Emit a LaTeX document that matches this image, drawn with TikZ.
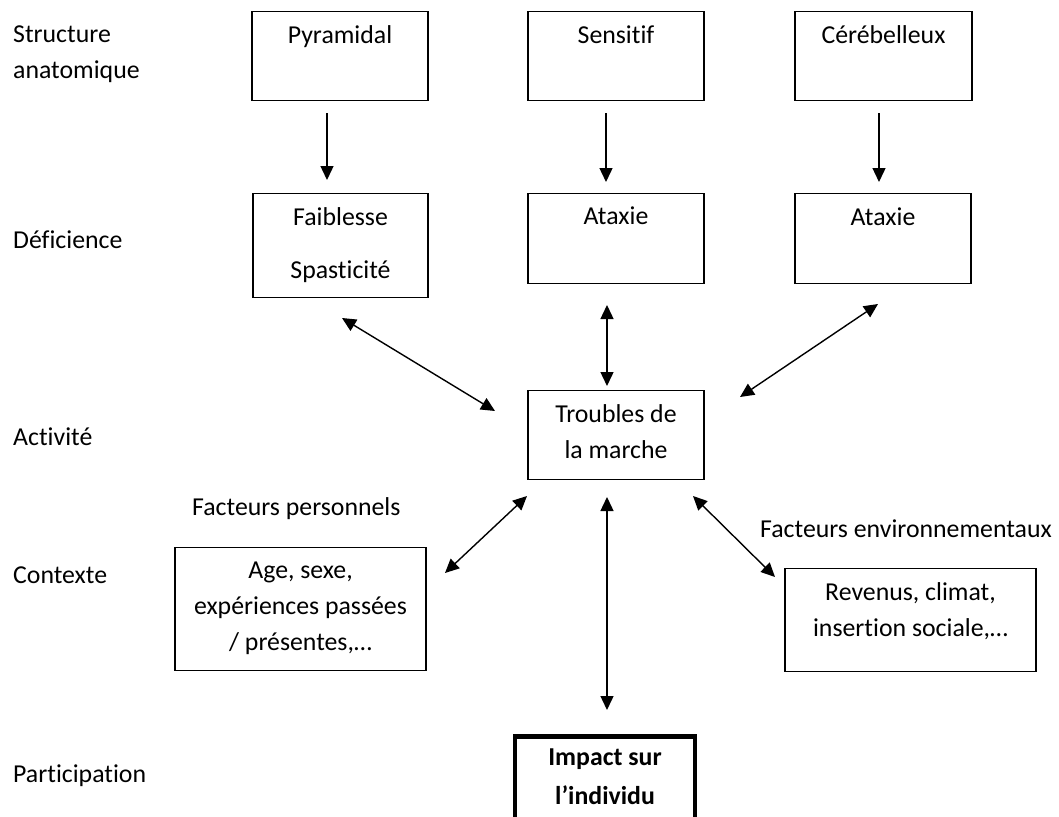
\documentclass[tikz,border=0pt]{standalone}
\usepackage{fontspec}
\setmainfont{Carlito}[Ligatures=NoCommon]
\usetikzlibrary{arrows.meta}
\frenchspacing
\begin{document}
\begin{tikzpicture}[x=1pt,y=-1pt,
  txt/.style={font=\fontsize{25.8}{36}\selectfont},
  box/.style={txt, draw, line width=1.4pt, inner sep=0pt, align=flush center, anchor=north},
  lab/.style={txt, anchor=base west, inner sep=0pt},
  arr/.style={line width=1.4pt, -{Triangle[length=14pt,width=13pt]}},
  darr/.style={line width=1.4pt, {Triangle[length=14pt,width=13pt]}-{Triangle[length=14pt,width=13pt]}}
]
\path[use as bounding box, clip] (0,0) rectangle (1059,816);
\fill[white] (0,0) rectangle (1059,816);

% left labels
\node[lab] (l1) at (13,43) {Structure};
\node[lab] (l2) at (13,78) {anatomique};
\node[lab] (l3) at (13,248) {Déficience};
\node[lab] (l4) at (13,445) {Activité};
\node[lab] (l5) at (13,583) {Contexte};
\node[lab] (l6) at (13,782) {Participation};

% top row
\node[box, text width=176pt, text height=32pt, text depth=57pt] (pyr) at (340,11) {Pyramidal};
\node[box, text width=176pt, text height=32pt, text depth=57pt] (sen) at (616,11) {Sensitif};
\node[box, text width=177pt, text height=32pt, text depth=57pt] (cer) at (883.5,11) {Cérébelleux};

% deficiency row
\node[box, text width=175pt, text height=32pt, text depth=72pt] (fai) at (340.5,193) {Faiblesse\\[17pt]Spasticité};
\node[box, text width=176pt, text height=31pt, text depth=59pt] (atm) at (616,193) {Ataxie};
\node[box, text width=176pt, text height=32pt, text depth=58pt] (atr) at (883,193) {Ataxie};

% activity
\node[box, text width=176pt, text height=32pt, text depth=57pt] (tro) at (616,390) {Troubles de\\la marche};

% context
\node[lab] (fp) at (192,515) {Facteurs personnels};
\node[lab] (fe) at (760,537) {Facteurs environnementaux};
\node[box, text width=251pt, text height=31pt, text depth=92pt] (age) at (300.5,547) {Age, sexe,\\expériences passées\\/ présentes,…};
\node[box, text width=251pt, text height=32pt, text depth=71pt] (rev) at (910.5,568) {Revenus, climat,\\insertion sociale,…};

% participation
\node[box, line width=4.5pt, font=\bfseries\fontsize{25.8}{39}\selectfont, text width=180pt, text height=29pt, text depth=120pt] (imp) at (605,734) {Impact sur\\l’individu};

% connector ends
\coordinate (a1s) at (327,113);  \coordinate (a1e) at (327,180);
\coordinate (a2s) at (606,113);  \coordinate (a2e) at (606,182);
\coordinate (a3s) at (879,113);  \coordinate (a3e) at (879,182);
\coordinate (d1a) at (342,318);  \coordinate (d1b) at (495,411);
\coordinate (v1a) at (607,305);  \coordinate (v1b) at (607,386);
\coordinate (d2a) at (878,304);  \coordinate (d2b) at (740,397);
\coordinate (d3a) at (527,496);  \coordinate (d3b) at (445,573);
\coordinate (v2a) at (607,497);  \coordinate (v2b) at (607,710);
\coordinate (d4a) at (693,496);  \coordinate (d4b) at (775,577);

\draw[arr] (a1s) -- (a1e);
\draw[arr] (a2s) -- (a2e);
\draw[arr] (a3s) -- (a3e);
\draw[darr] (d1a) -- (d1b);
\draw[darr] (v1a) -- (v1b);
\draw[darr] (d2a) -- (d2b);
\draw[darr] (d3a) -- (d3b);
\draw[darr] (v2a) -- (v2b);
\draw[darr] (d4a) -- (d4b);
\end{tikzpicture}
\end{document}
